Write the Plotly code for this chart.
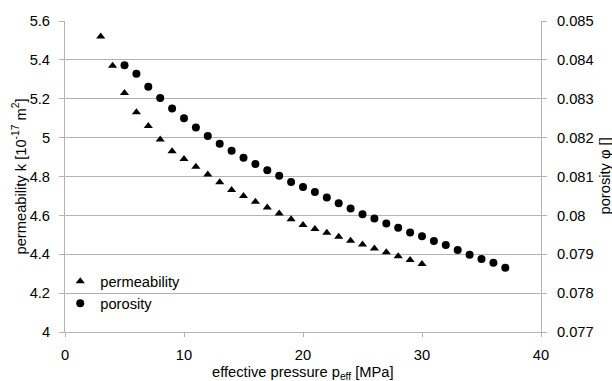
import plotly.graph_objects as go

# Data
perm_pressure = list(range(3, 31))
permeability = [5.52, 5.37, 5.23, 5.13, 5.06, 4.99, 4.93, 4.89, 4.85, 4.81,
                4.77, 4.73, 4.70, 4.67, 4.64, 4.61, 4.58, 4.55, 4.53, 4.51,
                4.49, 4.47, 4.45, 4.43, 4.41, 4.39, 4.37, 4.35]

poro_pressure = list(range(5, 38))
porosity = [0.08386, 0.08364, 0.08331, 0.08302, 0.08275, 0.08250, 0.08226,
            0.08204, 0.08184, 0.08166, 0.08148, 0.08132, 0.08116, 0.08102,
            0.08086, 0.08073, 0.08060, 0.08046, 0.08031, 0.08018, 0.08003,
            0.07992, 0.07979, 0.07968, 0.07956, 0.07946, 0.07934, 0.07924,
            0.07911, 0.07899, 0.07888, 0.07878, 0.07865]

FONT = "Liberation Sans, Arial, sans-serif"
FS = 14.7
GRID = "#b3b3b3"

fig = go.Figure()
fig.add_trace(go.Scatter(
    x=perm_pressure, y=permeability, mode="markers", name="permeability",
    marker=dict(symbol="triangle-up", size=8, color="black"), yaxis="y"))
fig.add_trace(go.Scatter(
    x=poro_pressure, y=porosity, mode="markers", name="porosity",
    marker=dict(symbol="circle", size=8, color="black"), yaxis="y2"))

fig.update_layout(
    width=612, height=381,
    margin=dict(l=65, r=71, t=21, b=49),
    paper_bgcolor="white", plot_bgcolor="white",
    font=dict(family=FONT, size=FS, color="black"),
    xaxis=dict(range=[0, 40], dtick=10, showgrid=False, zeroline=False,
               showline=True, linecolor=GRID, linewidth=1,
               ticks="outside", ticklen=4, tickcolor=GRID,
               ticklabelstandoff=5, tickfont=dict(size=FS)),
    yaxis=dict(range=[4, 5.6], dtick=0.2, showgrid=True, gridcolor=GRID,
               gridwidth=1, zeroline=False, showline=True, linecolor=GRID,
               ticks="outside", ticklen=5, tickcolor=GRID,
               ticklabelstandoff=6, tickfont=dict(size=FS)),
    yaxis2=dict(range=[0.077, 0.085], dtick=0.001, overlaying="y",
                side="right", showgrid=False, zeroline=False, showline=True,
                linecolor=GRID, ticks="outside", ticklen=5, tickcolor=GRID,
                ticklabelstandoff=7, tickfont=dict(size=FS)),
    legend=dict(x=-0.01, y=0.215, xanchor="left", yanchor="top",
                bgcolor="rgba(0,0,0,0)", font=dict(size=FS),
                itemwidth=30, tracegroupgap=0),
    showlegend=True,
    annotations=[
        dict(text="effective pressure p<sub>eff</sub> [MPa]", xref="paper",
             yref="paper", x=0.5, y=(331.7 - 373) / 311, xanchor="center",
             yanchor="middle", showarrow=False, font=dict(size=FS)),
        dict(text="permeability k [10<sup>-17</sup> m<sup>2</sup>]",
             xref="paper", yref="paper", x=(19 - 65) / 476, y=0.5,
             xanchor="center", yanchor="middle", textangle=-90,
             showarrow=False, font=dict(size=FS)),
        dict(text="porosity φ []", xref="paper", yref="paper",
             x=(604 - 65) / 476, y=0.5, xanchor="center", yanchor="middle",
             textangle=-90, showarrow=False, font=dict(size=FS)),
    ],
)

fig.write_html("out.html")
